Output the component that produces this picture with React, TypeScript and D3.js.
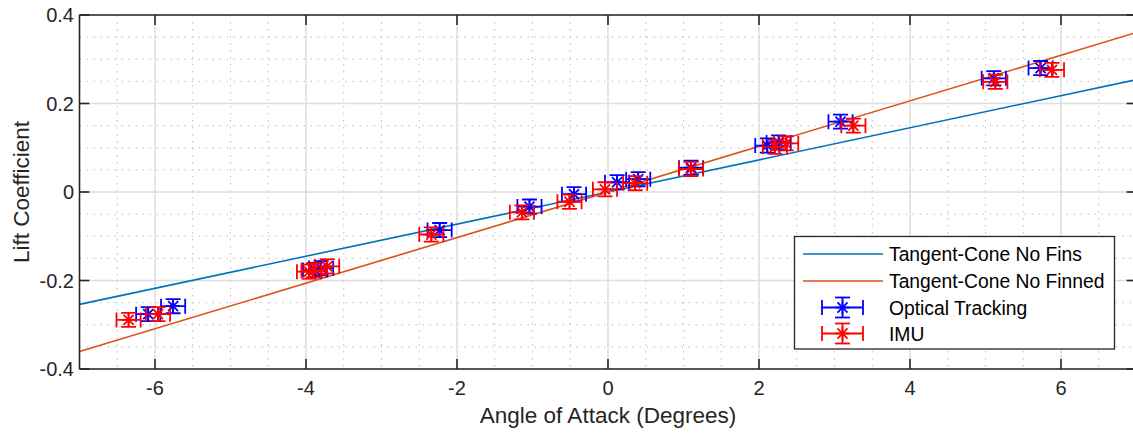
import React from "react";
import * as d3 from "d3";

const lineX = [-7, 7];
const noFinsY = [-0.254, 0.254];
const finnedY = [-0.3605, 0.3605];

const opticalX = [-6.09, -5.76, -3.88, -3.8, -2.23, -1.04, -0.45, 0.12, 0.4, 1.1, 2.11, 2.26, 3.08, 5.11, 5.73];
const opticalY = [-0.276, -0.258, -0.176, -0.172, -0.086, -0.033, -0.005, 0.022, 0.029, 0.055, 0.105, 0.112, 0.159, 0.257, 0.28];
const imuX = [-6.35, -5.96, -3.96, -3.9, -3.72, -2.34, -1.14, -0.51, -0.04, 0.36, 1.1, 2.21, 2.36, 3.25, 5.13, 5.88];
const imuY = [-0.289, -0.276, -0.18, -0.177, -0.168, -0.096, -0.046, -0.022, 0.006, 0.02, 0.052, 0.102, 0.11, 0.15, 0.249, 0.276];
const xErr = 0.16;
const yErr = 0.016;

const xTicks = [-6, -4, -2, 0, 2, 4, 6];
const yTicks = [-0.4, -0.2, 0, 0.2, 0.4];
const xTickLabels = ["-6", "-4", "-2", "0", "2", "4", "6"];
const yTickLabels = ["-0.4", "-0.2", "0", "0.2", "0.4"];
const xMinor = d3.range(-7, 7.01, 0.5);
const yMinor = d3.range(-0.4, 0.401, 0.05);

const legendLabels = ["Tangent-Cone No Fins", "Tangent-Cone No Finned", "Optical Tracking", "IMU"];

const W = 1133, H = 434;
const L = 79.5, R = 1136.5, T = 15, B = 369;
const FONT = "'Liberation Sans', Arial, Helvetica, sans-serif";
const BLUE_LINE = "#0072BD";
const ORANGE_LINE = "#D95319";
const BLUE = "#0000FF";
const RED = "#FF0000";

function ErrMark({ cx, cy, ex, ey, color }: { cx: number; cy: number; ex: number; ey: number; color: string }) {
  const cap = 7.5;
  const m = 7;
  const d = m * 0.72;
  return (
    <g stroke={color} strokeWidth={1.8} fill="none">
      <line x1={cx - ex} x2={cx + ex} y1={cy} y2={cy} />
      <line x1={cx - ex} x2={cx - ex} y1={cy - cap} y2={cy + cap} />
      <line x1={cx + ex} x2={cx + ex} y1={cy - cap} y2={cy + cap} />
      <line x1={cx} x2={cx} y1={cy - ey} y2={cy + ey} />
      <line x1={cx - cap} x2={cx + cap} y1={cy - ey} y2={cy - ey} />
      <line x1={cx - cap} x2={cx + cap} y1={cy + ey} y2={cy + ey} />
      <line x1={cx - m} x2={cx + m} y1={cy} y2={cy} />
      <line x1={cx} x2={cx} y1={cy - m} y2={cy + m} />
      <line x1={cx - d} x2={cx + d} y1={cy - d} y2={cy + d} />
      <line x1={cx - d} x2={cx + d} y1={cy + d} y2={cy - d} />
    </g>
  );
}

export default function App() {
  const x = d3.scaleLinear().domain([-7, 7]).range([L, R]);
  const y = d3.scaleLinear().domain([-0.4, 0.4]).range([B, T]);
  const line = d3.line<[number, number]>().x((d) => x(d[0])).y((d) => y(d[1]));
  const ex = x(xErr) - x(0);
  const ey = y(0) - y(yErr);
  const axisColor = "#262626";
  const legendRows = [254, 281, 307.5, 333.5];

  return (
    <svg width={W} height={H} style={{ position: "absolute", left: 0, top: 0, background: "#fff" }}>
      <defs>
        <clipPath id="plot">
          <rect x={L} y={T} width={R - L} height={B - T} />
        </clipPath>
      </defs>
      <rect x={L} y={T} width={R - L} height={B - T} fill="#fff" />
      <g stroke="#bdbdbd" strokeWidth={1} strokeDasharray="1.5,5.5">
        {xMinor.map((v, i) => (
          <line key={"xm" + i} x1={x(v)} x2={x(v)} y1={T} y2={B} />
        ))}
        {yMinor.map((v, i) => (
          <line key={"ym" + i} x1={L} x2={R} y1={y(v)} y2={y(v)} />
        ))}
      </g>
      <g stroke="#dfdfdf" strokeWidth={1.5}>
        {xTicks.map((v) => (
          <line key={"xg" + v} x1={x(v)} x2={x(v)} y1={T} y2={B} />
        ))}
        {yTicks.map((v) => (
          <line key={"yg" + v} x1={L} x2={R} y1={y(v)} y2={y(v)} />
        ))}
      </g>
      <g clipPath="url(#plot)">
        <path d={line(lineX.map((v, i) => [v, noFinsY[i]]) as any) || ""} stroke={BLUE_LINE} strokeWidth={1.6} fill="none" />
        <path d={line(lineX.map((v, i) => [v, finnedY[i]]) as any) || ""} stroke={ORANGE_LINE} strokeWidth={1.6} fill="none" />
        {opticalX.map((v, i) => (
          <ErrMark key={"o" + i} cx={x(v)} cy={y(opticalY[i])} ex={ex} ey={ey} color={BLUE} />
        ))}
        {imuX.map((v, i) => (
          <ErrMark key={"m" + i} cx={x(v)} cy={y(imuY[i])} ex={ex} ey={ey} color={RED} />
        ))}
      </g>
      <g stroke={axisColor} strokeWidth={1.6} fill="none">
        <line x1={L} x2={R} y1={B} y2={B} />
        <line x1={L} x2={R} y1={T} y2={T} />
        <line x1={L} x2={L} y1={T} y2={B} />
        <line x1={R} x2={R} y1={T} y2={B} />
        {xTicks.map((v) => (
          <g key={"xt" + v}>
            <line x1={x(v)} x2={x(v)} y1={B} y2={B - 10} />
            <line x1={x(v)} x2={x(v)} y1={T} y2={T + 10} />
          </g>
        ))}
        {yTicks.map((v) => (
          <g key={"yt" + v}>
            <line x1={L} x2={L + 10} y1={y(v)} y2={y(v)} />
            <line x1={R} x2={R - 10} y1={y(v)} y2={y(v)} />
          </g>
        ))}
      </g>
      <g fontFamily={FONT} fontSize={20} fill={axisColor}>
        {xTicks.map((v, i) => (
          <text key={"xl" + v} x={x(v)} y={B + 26} textAnchor="middle">
            {xTickLabels[i]}
          </text>
        ))}
        {yTicks.map((v, i) => (
          <text key={"yl" + v} x={74} y={y(v) + 7} textAnchor="end">
            {yTickLabels[i]}
          </text>
        ))}
      </g>
      <text x={608} y={423} textAnchor="middle" fontFamily={FONT} fontSize={22.5} fill={axisColor}>
        Angle of Attack (Degrees)
      </text>
      <text
        transform={`translate(29,192) rotate(-90)`}
        textAnchor="middle"
        fontFamily={FONT}
        fontSize={22.5}
        fill={axisColor}
      >
        Lift Coefficient
      </text>
      <g>
        <rect x={794.5} y={236.5} width={320} height={112.5} fill="#fff" stroke={axisColor} strokeWidth={1.3} />
        <line x1={803} x2={883} y1={legendRows[0]} y2={legendRows[0]} stroke={BLUE_LINE} strokeWidth={1.6} />
        <line x1={803} x2={883} y1={legendRows[1]} y2={legendRows[1]} stroke={ORANGE_LINE} strokeWidth={1.6} />
        <ErrMark cx={842.5} cy={legendRows[2]} ex={20.5} ey={10} color={BLUE} />
        <ErrMark cx={842.5} cy={legendRows[3]} ex={20.5} ey={10} color={RED} />
        <g fontFamily={FONT} fontSize={19.3} fill="#000">
          {legendLabels.map((s, i) => (
            <text key={s} x={889} y={legendRows[i] + 7}>
              {s}
            </text>
          ))}
        </g>
      </g>
    </svg>
  );
}
